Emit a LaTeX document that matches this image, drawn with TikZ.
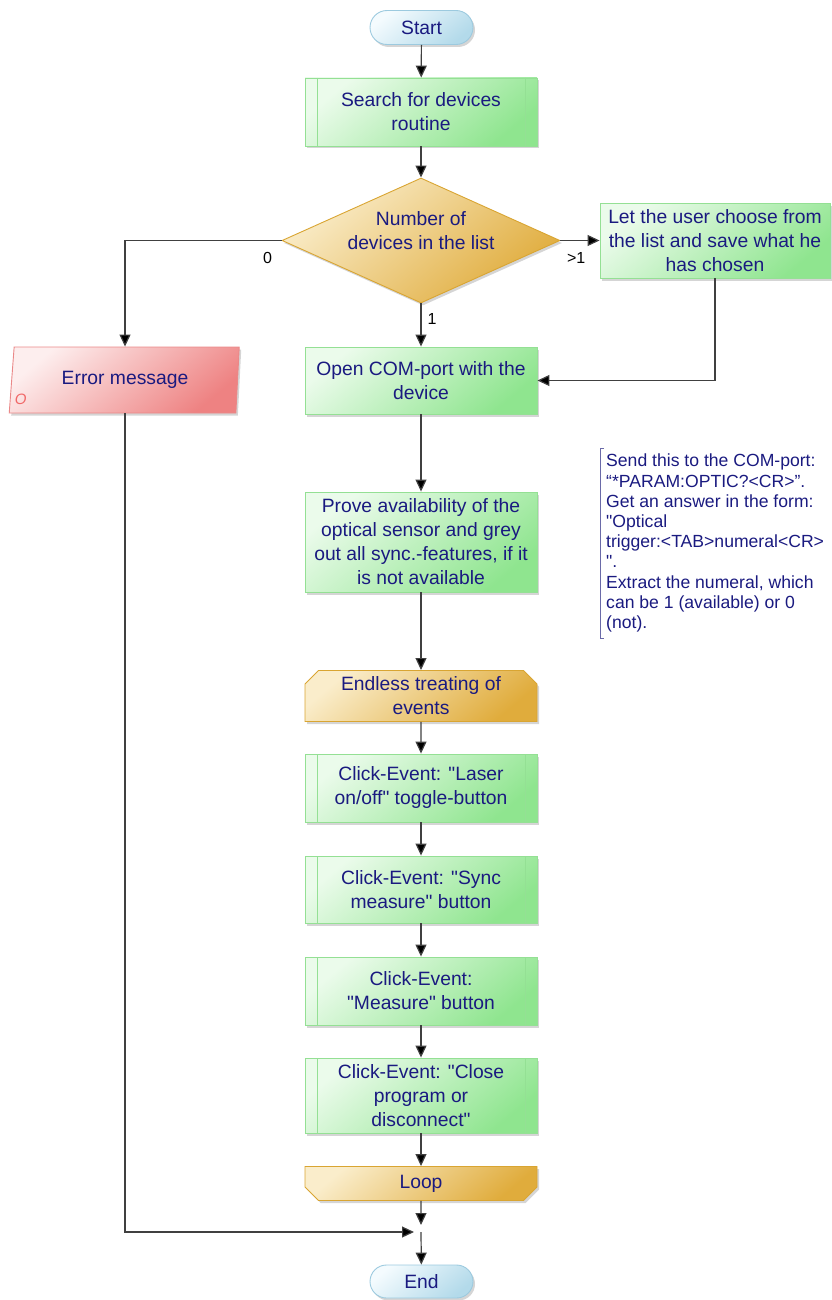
\documentclass[tikz,border=0pt]{standalone}
\usepackage{fontspec}
\setmainfont{Liberation Sans}[Ligatures=TeXOff]
\usetikzlibrary{shapes.geometric,shapes.misc,arrows.meta,shadows}

\definecolor{txtblue}{HTML}{1A1A80}
\definecolor{grnlight}{HTML}{EBFBEB}
\definecolor{grndark}{HTML}{8FE58F}
\definecolor{grnline}{HTML}{94E094}
\definecolor{bluelight}{HTML}{F4FBFE}
\definecolor{bluedark}{HTML}{B3DAEA}
\definecolor{blueline}{HTML}{9CCADF}
\definecolor{goldlight}{HTML}{FAEDCB}
\definecolor{golddark}{HTML}{E0AC3C}
\definecolor{goldline}{HTML}{D9A532}
\definecolor{redlight}{HTML}{FDEEEE}
\definecolor{reddark}{HTML}{EE8282}
\definecolor{redline}{HTML}{EA8888}
\definecolor{flowgray}{HTML}{404040}
\definecolor{notebar}{HTML}{6A6AA8}

\tikzset{
    chartbox/.style={draw, line width=0.9pt, text=txtblue, align=center, inner sep=2pt,
        font=\fontsize{19.3}{24}\selectfont,
        drop shadow={shadow xshift=2pt, shadow yshift=-2.5pt, fill=black!55, opacity=0.3}},
    process/.style={chartbox, rectangle, draw=grnline, top color=grnlight, bottom color=grndark,
        shading angle=40, minimum width=232},
    subprocess/.style={process, path picture={
        \draw[grnline, line width=0.8pt]
            ([xshift=12pt]path picture bounding box.north west) -- ([xshift=12pt]path picture bounding box.south west)
            ([xshift=-12pt]path picture bounding box.north east) -- ([xshift=-12pt]path picture bounding box.south east);}},
    terminal/.style={chartbox, rounded rectangle, draw=blueline, top color=bluelight, bottom color=bluedark,
        shading angle=40, minimum width=107, minimum height=34},
    decision/.style={chartbox, diamond, draw=goldline, top color=goldlight, bottom color=golddark,
        shading angle=40, inner sep=0pt, minimum width=278, minimum height=125},
    diamondtext/.style={text=txtblue, align=center, font=\fontsize{19.3}{24}\selectfont, yshift=10pt},
    loopopen/.style={chartbox, chamfered rectangle, chamfered rectangle corners={north west,north east},
        chamfered rectangle xsep=10pt, draw=goldline, top color=goldlight, bottom color=golddark,
        shading angle=40, minimum width=232},
    loopclose/.style={chartbox, chamfered rectangle, chamfered rectangle corners={south west,south east},
        chamfered rectangle xsep=10pt, draw=goldline, top color=goldlight, bottom color=golddark,
        shading angle=40, minimum width=232},
    output/.style={chartbox, trapezium, trapezium left angle=77, trapezium right angle=99,
        trapezium stretches body=true, draw=redline, top color=redlight, bottom color=reddark,
        shading angle=40, minimum width=230, minimum height=66},
    outmark/.style={text=reddark!80!red, inner sep=0pt, font=\fontsize{15}{16}\selectfont\itshape},
    note/.style={text=txtblue, align=left, inner xsep=6pt, inner ysep=6pt,
        font=\fontsize{17.6}{20.2}\selectfont},
    branch/.style={text=black, inner sep=0pt, font=\fontsize{16}{18}\selectfont},
    flow/.style={draw=flowgray, line width=1.2pt, -{Triangle[length=12pt, width=11pt, fill=black]}},
}

\begin{document}
\begin{tikzpicture}[x=1pt, y=1pt]
    \useasboundingbox (0,0) rectangle (831,-1300);

    \node[terminal] (start) at (421.5,-27.5) {Start};
    \node[subprocess, minimum height=68] (search) at (421,-112) {Search for devices\\routine};
    \node[decision, label={[diamondtext]center:Number of\\devices in the list}] (count) at (421,-240.5) {};
    \node[process, minimum width=230, minimum height=75] (choose) at (715,-240.5) {Let the user choose from\\the list and save what he\\has chosen};
    \node[output] (error) at (125,-380) {Error message};
    \node[outmark] (errmark) at ([shift={(12,14)}]error.bottom left corner) {O};
    \node[process, minimum height=67] (open) at (421,-380.5) {Open COM-port with the\\device};
    \node[process, minimum height=100] (prove) at (421,-542) {Prove availability of the\\optical sensor and grey\\out all sync.-features, if it\\is not available};
    \node[note, anchor=north west] (remark) at (600,-448) {Send this to the COM-port:\\“*PARAM:OPTIC?<CR>”.\\Get an answer in the form:\\"Optical\\trigger:<TAB>numeral<CR>\\".\\Extract the numeral, which\\can be 1 (available) or 0\\(not).};
    \node[loopopen, minimum height=51] (endless) at (421,-696) {Endless treating of\\events};
    \node[subprocess, minimum height=68] (laser) at (421,-788) {Click-Event: "Laser\\on/off" toggle-button};
    \node[subprocess, minimum height=67] (sync) at (421,-889.5) {Click-Event: "Sync\\measure" button};
    \node[subprocess, minimum height=68] (measure) at (421,-991) {Click-Event:\\"Measure" button};
    \node[subprocess, minimum height=75] (close) at (421,-1095.5) {Click-Event: "Close\\program or\\disconnect"};
    \node[loopclose, minimum height=34] (loop) at (421,-1183.5) {Loop};
    \coordinate (merge) at (421,-1232);
    \node[terminal, minimum height=33] (end) at (421.5,-1281.5) {End};

    \draw[notebar, line width=1pt] ([xshift=4pt]remark.north west) -- (remark.north west)
        -- (remark.south west) -- ([xshift=4pt]remark.south west);

    \draw[flow] (start) -- (search);
    \draw[flow] (search) -- (count);
    \draw[flow] (count.west) node[branch, anchor=north east, xshift=-9pt, yshift=-11pt] {0} -| (error);
    \draw[flow] (count.east) node[branch, anchor=north west, xshift=6pt, yshift=-11pt] {>1} -- (choose);
    \draw[flow] (count.south) node[branch, anchor=north west, xshift=6pt, yshift=-9pt] {1} -- (open);
    \draw[flow] (choose) |- (open);
    \draw[flow] (open) -- (prove);
    \draw[flow] (prove) -- (endless);
    \draw[flow] (endless) -- (laser);
    \draw[flow] (laser) -- (sync);
    \draw[flow] (sync) -- (measure);
    \draw[flow] (measure) -- (close);
    \draw[flow] (close) -- (loop);
    \draw[flow, shorten >=7pt] (loop) -- (merge);
    \draw[flow, shorten >=7pt] (error) |- (merge);
    \draw[flow] (merge) -- (end);
\end{tikzpicture}
\end{document}
